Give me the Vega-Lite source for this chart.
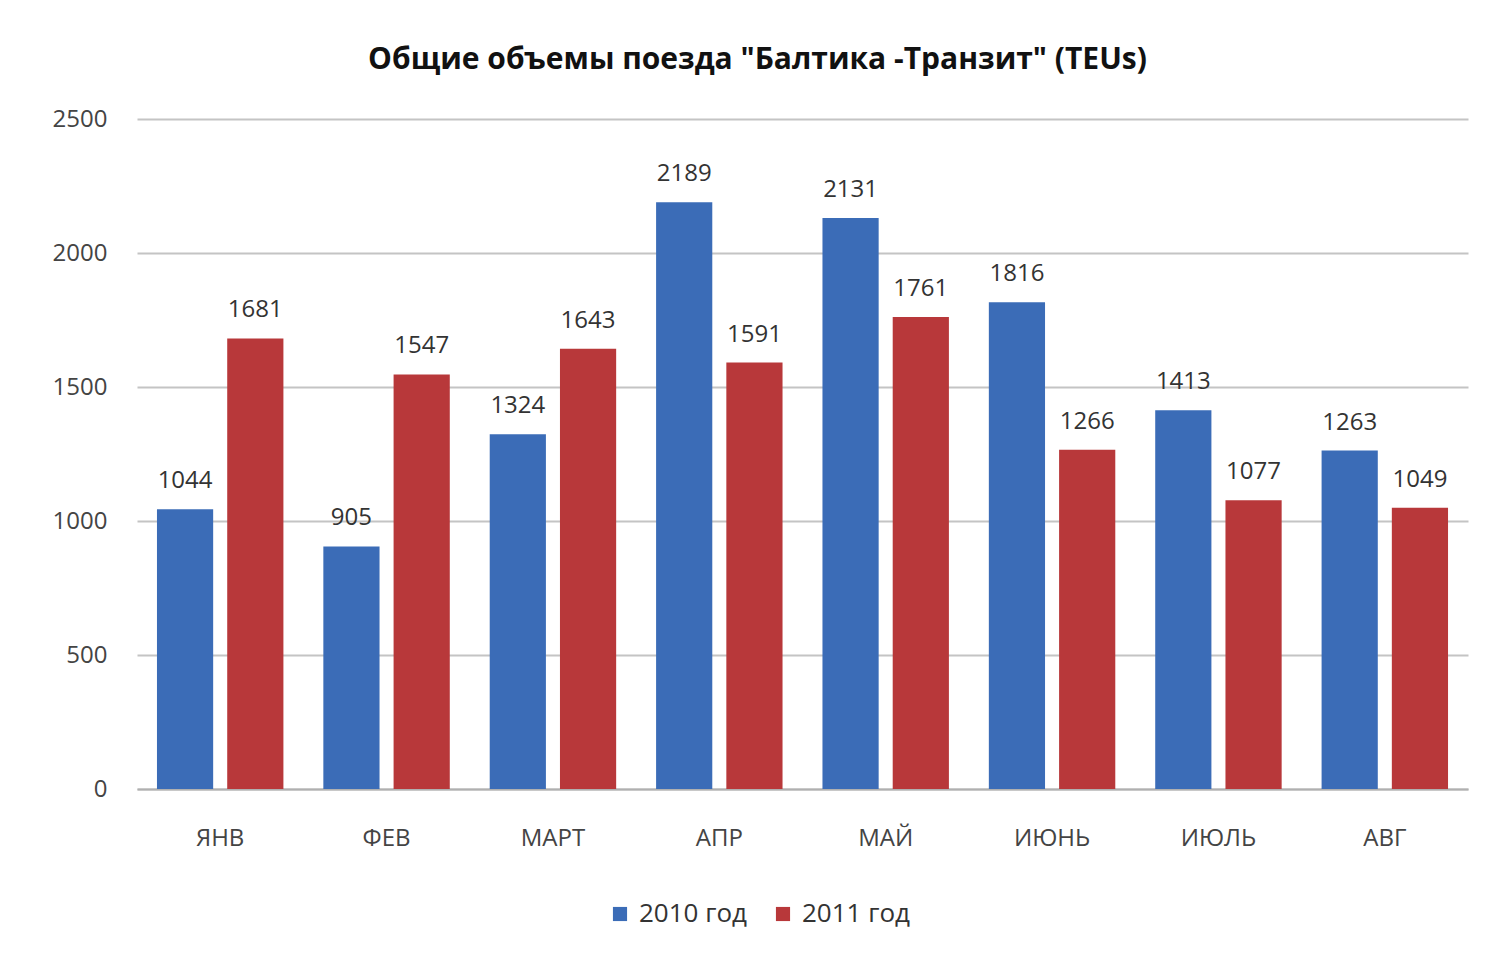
{
  "$schema": "https://vega.github.io/schema/vega-lite/v6.json",
  "autosize": "none",
  "width": 1331,
  "height": 670,
  "padding": {"left": 137, "top": 119, "right": 18, "bottom": 170},
  "background": "white",
  "title": {
    "text": "Общие объемы поезда \"Балтика -Транзит\" (TEUs)",
    "font": "Open Sans",
    "fontSize": 30,
    "fontWeight": "bold",
    "color": "#111111",
    "anchor": "middle",
    "dx": -45,
    "offset": 32
  },
  "data": {
    "values": [
      {"month": "ЯНВ", "year": "2010 год", "value": 1044},
      {"month": "ЯНВ", "year": "2011 год", "value": 1681},
      {"month": "ФЕВ", "year": "2010 год", "value": 905},
      {"month": "ФЕВ", "year": "2011 год", "value": 1547},
      {"month": "МАРТ", "year": "2010 год", "value": 1324},
      {"month": "МАРТ", "year": "2011 год", "value": 1643},
      {"month": "АПР", "year": "2010 год", "value": 2189},
      {"month": "АПР", "year": "2011 год", "value": 1591},
      {"month": "МАЙ", "year": "2010 год", "value": 2131},
      {"month": "МАЙ", "year": "2011 год", "value": 1761},
      {"month": "ИЮНЬ", "year": "2010 год", "value": 1816},
      {"month": "ИЮНЬ", "year": "2011 год", "value": 1266},
      {"month": "ИЮЛЬ", "year": "2010 год", "value": 1413},
      {"month": "ИЮЛЬ", "year": "2011 год", "value": 1077},
      {"month": "АВГ", "year": "2010 год", "value": 1263},
      {"month": "АВГ", "year": "2011 год", "value": 1049}
    ]
  },
  "encoding": {
    "x": {
      "field": "month",
      "type": "nominal",
      "sort": null,
      "title": null,
      "scale": {"paddingInner": 0.24, "paddingOuter": 0.12},
      "axis": {
        "labelAngle": 0,
        "labelFont": "Open Sans",
        "labelFontSize": 24,
        "labelColor": "#444444",
        "labelPadding": 37,
        "ticks": false,
        "domainColor": "#b0b0b0",
        "domainWidth": 2,
        "grid": false
      }
    },
    "xOffset": {
      "field": "year",
      "type": "nominal",
      "scale": {"paddingInner": 0.2, "paddingOuter": 0}
    },
    "y": {
      "field": "value",
      "type": "quantitative",
      "title": null,
      "scale": {"domain": [0, 2500], "nice": false},
      "axis": {
        "values": [0, 500, 1000, 1500, 2000, 2500],
        "format": "d",
        "labelFont": "Open Sans",
        "labelFontSize": 24,
        "labelColor": "#444444",
        "labelPadding": 30,
        "ticks": false,
        "domain": false,
        "gridColor": "#c4c4c4",
        "gridWidth": 2
      }
    }
  },
  "layer": [
    {
      "mark": {"type": "bar"},
      "encoding": {
        "color": {
          "field": "year",
          "type": "nominal",
          "title": null,
          "scale": {"domain": ["2010 год", "2011 год"], "range": ["#3B6CB7", "#B8383A"]},
          "legend": {
            "orient": "none",
            "direction": "horizontal",
            "legendX": 470,
            "legendY": 782,
            "symbolType": "square",
            "symbolSize": 200,
            "symbolStrokeWidth": 0,
            "labelFont": "Open Sans",
            "labelFontSize": 26,
            "labelColor": "#333333",
            "columnPadding": 22,
            "labelOffset": 6
          }
        }
      }
    },
    {
      "mark": {
        "type": "text",
        "baseline": "bottom",
        "dy": -16,
        "font": "Open Sans",
        "fontSize": 24,
        "color": "#333333"
      },
      "encoding": {
        "text": {"field": "value", "type": "quantitative"}
      }
    }
  ],
  "config": {
    "view": {"stroke": null}
  }
}
